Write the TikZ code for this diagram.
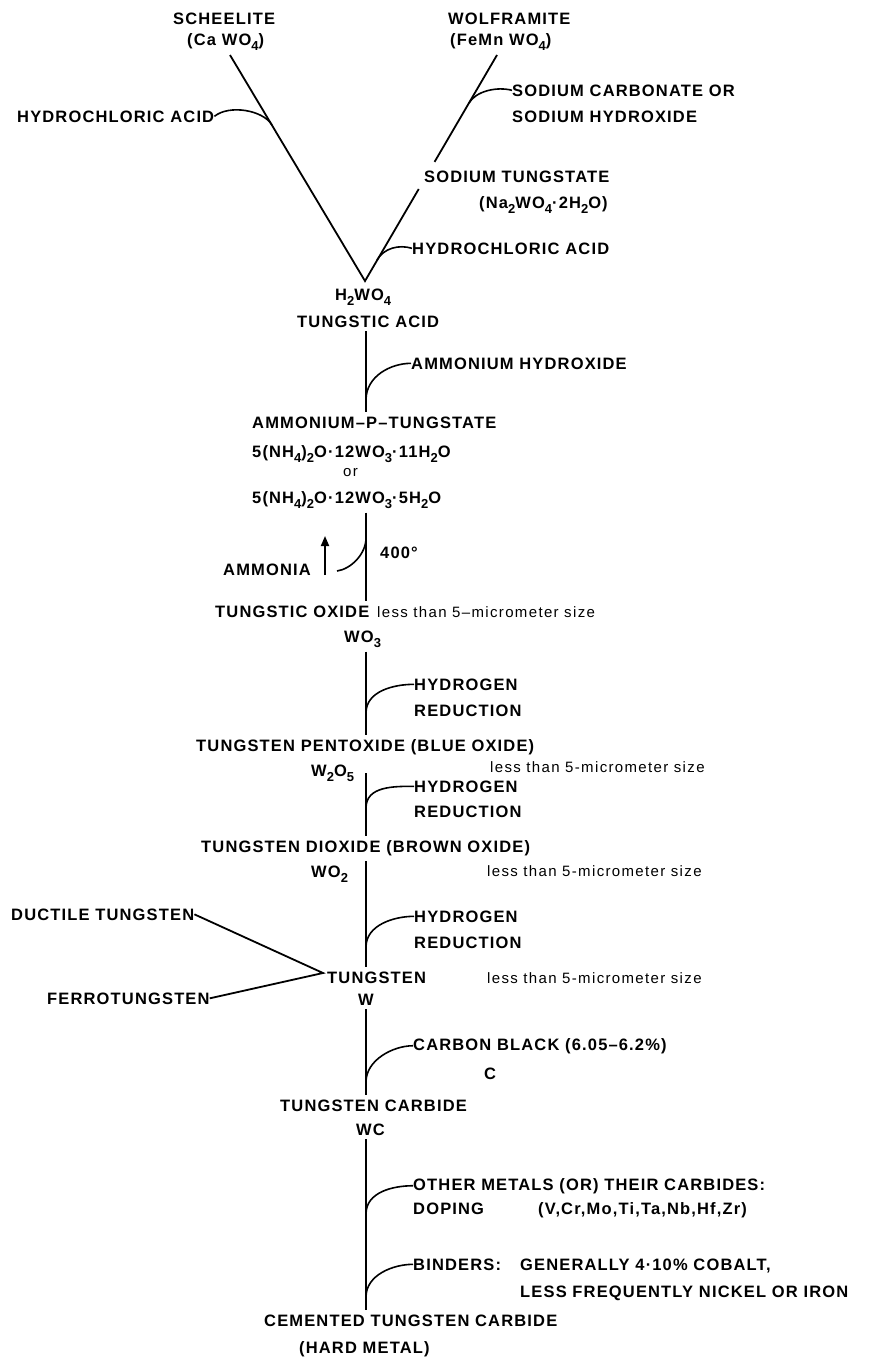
\documentclass[tikz,border=0pt]{standalone}
\usepackage{fontspec}
\usetikzlibrary{arrows.meta,calc}
\newfontfamily\capsfont{Liberation Sans}[LetterSpace=7]
\newfontfamily\smlfont{Liberation Sans}[LetterSpace=9]
\newcommand\sbs[1]{\raisebox{-0.6ex}{\fontsize{13}{13}\selectfont #1}}
\begin{document}
\begin{tikzpicture}[x=1pt,y=-1pt,
  lbl/.style={inner xsep=0pt,inner ysep=4pt,anchor=base west,font=\capsfont\bfseries\fontsize{16.5}{19}\selectfont},
  sml/.style={inner xsep=0pt,inner ysep=4pt,anchor=base west,font=\smlfont\fontsize{15}{17}\selectfont},
  ln/.style={line width=1.8pt},
  hk/.style={line width=1.6pt},
]
\useasboundingbox (0,0) rectangle (873,1360);
% labels
\node[lbl] (sch) at (173,24) {SCHEELITE};
\node[lbl] (cawo) at (187,45) {(Ca WO\sbs{4})};
\node[lbl] (wolf) at (448,24) {WOLFRAMITE};
\node[lbl] (femn) at (450,45) {(FeMn WO\sbs{4})};
\node[lbl] (hcla) at (17,122) {HYDROCHLORIC ACID};
\node[lbl] (soc) at (512,96) {SODIUM CARBONATE OR};
\node[lbl] (soh) at (512,122) {SODIUM HYDROXIDE};
\node[lbl] (sodt) at (424,182) {SODIUM TUNGSTATE};
\node[lbl] (na) at (479,208) {(Na\sbs{2}WO\sbs{4}·2H\sbs{2}O)};
\node[lbl] (hclb) at (412,254) {HYDROCHLORIC ACID};
\node[lbl] (hwo) at (335,300) {H\sbs{2}WO\sbs{4}};
\node[lbl] (tacid) at (297,327) {TUNGSTIC ACID};
\node[lbl] (amh) at (411,369) {AMMONIUM HYDROXIDE};
\node[lbl] (apt) at (252,428) {AMMONIUM–P–TUNGSTATE};
\node[lbl] (fa) at (252,457) {5(NH\sbs{4})\sbs{2}O·12WO\sbs{3}·11H\sbs{2}O};
\node[sml] (or) at (343,476) {or};
\node[lbl] (fb) at (252,503) {5(NH\sbs{4})\sbs{2}O·12WO\sbs{3}·5H\sbs{2}O};
\node[lbl] (amm) at (223,575) {AMMONIA};
\node[lbl] (deg) at (380,558) {400°};
\node[lbl] (tox) at (215,617) {TUNGSTIC OXIDE};
\node[sml] (lta) at (377,617) {less than 5–micrometer size};
\node[lbl] (wo3) at (344,642) {WO\sbs{3}};
\node[lbl] (hya) at (414,690) {HYDROGEN};
\node[lbl] (rea) at (414,716) {REDUCTION};
\node[lbl] (pent) at (196,751) {TUNGSTEN PENTOXIDE (BLUE OXIDE)};
\node[sml] (ltb) at (490,772) {less than 5-micrometer size};
\node[lbl] (wfo) at (311,776) {W\sbs{2}O\sbs{5}};
\node[lbl] (hyb) at (414,792) {HYDROGEN};
\node[lbl] (reb) at (414,817) {REDUCTION};
\node[lbl] (diox) at (201,852) {TUNGSTEN DIOXIDE (BROWN OXIDE)};
\node[lbl] (wo2) at (311,877) {WO\sbs{2}};
\node[sml] (ltc) at (487,876) {less than 5-micrometer size};
\node[lbl] (hyc) at (414,922) {HYDROGEN};
\node[lbl] (rec) at (414,948) {REDUCTION};
\node[lbl] (duct) at (11,920) {DUCTILE TUNGSTEN};
\node[lbl] (ferro) at (47,1004) {FERROTUNGSTEN};
\node[lbl] (tung) at (327,983) {TUNGSTEN};
\node[sml] (ltd) at (487,983) {less than 5-micrometer size};
\node[lbl] (w) at (358,1005) {W};
\node[lbl] (carb) at (413,1050) {CARBON BLACK (6.05–6.2\%)};
\node[lbl] (c) at (484,1079) {C};
\node[lbl] (tcarb) at (280,1111) {TUNGSTEN CARBIDE};
\node[lbl] (wc) at (356,1135) {WC};
\node[lbl] (oth) at (413,1190) {OTHER METALS (OR) THEIR CARBIDES:};
\node[lbl] (dop) at (413,1214) {DOPING};
\node[lbl] (vcr) at (538,1214) {(V,Cr,Mo,Ti,Ta,Nb,Hf,Zr)};
\node[lbl] (bind) at (413,1270) {BINDERS:};
\node[lbl] (gen) at (520,1270) {GENERALLY 4·10\% COBALT,};
\node[lbl] (less) at (520,1297) {LESS FREQUENTLY NICKEL OR IRON};
\node[lbl] (cem) at (264,1326) {CEMENTED TUNGSTEN CARBIDE};
\node[lbl] (hard) at (299,1353) {(HARD METAL)};
% coordinates
\coordinate (X) at (366,0);
\coordinate (V) at (365,281);
\coordinate (LT) at (230,55);
\coordinate (RT) at (497,55);
\coordinate (r1) at ($(RT)!0.473!(V)$);
\coordinate (r2) at ($(RT)!0.593!(V)$);
\coordinate (jA) at (272,125);
\coordinate (jB) at (469,103);
\coordinate (jC) at (377,260);
\coordinate (jD) at (366,400);
\coordinate (hE) at (337,571);
\coordinate (jE) at (366,538);
\coordinate (arB) at (325,575);
\coordinate (arT) at (325,536);
\coordinate (jF) at (366,713);
\coordinate (jG) at (366,808);
\coordinate (jH) at (366,947);
\coordinate (jI) at (366,1082);
\coordinate (jJ) at (366,1214);
\coordinate (jK) at (366,1297);
\coordinate (vtx) at (323,973);
% V
\draw[ln] (LT) -- (V) -- (r2);
\draw[ln] (RT) -- (r1);
\draw[hk] (hcla.east) .. controls +(15,-12) and +(-9,-15) .. (jA);
\draw[hk] (soc.west) .. controls +(-15,-4) and +(7,-12) .. (jB);
\draw[hk] (hclb.west) .. controls +(-13,-4) and +(7,-12) .. (jC);
% main stem
\draw[ln] (tacid.south -| X) -- (apt.north -| X);
\draw[hk] (amh.west) .. controls +(-20,0) and +(0,-24) .. (jD);
\draw[ln] (fb.south -| X) -- (tox.north -| X);
\draw[hk] (hE) .. controls +(14,-2) and +(0,16) .. (jE);
\draw[ln,-{Triangle[width=8pt,length=10pt]}] (arB) -- (arT);
\draw[ln] (wo3.south -| X) -- (pent.north -| X);
\draw[hk] (hya.west) .. controls +(-20,0) and +(0,-22) .. (jF);
\draw[ln] ($(wfo.north -| X)+(0,13)$) -- (diox.north -| X);
\draw[hk] (hyb.west) .. controls +(-20,0) and +(0,-22) .. (jG);
\draw[ln] (wo2.north -| X) -- (tung.north -| X);
\draw[hk] (hyc.west) .. controls +(-20,0) and +(0,-22) .. (jH);
\draw[ln] (duct.east) -- (vtx) -- (ferro.east);
\draw[ln] (w.south -| X) -- (tcarb.north -| X);
\draw[hk] (carb.west) .. controls +(-20,0) and +(0,-22) .. (jI);
\draw[ln] (wc.south -| X) -- (cem.north -| X);
\draw[hk] (oth.west) .. controls +(-20,0) and +(0,-22) .. (jJ);
\draw[hk] (bind.west) .. controls +(-20,0) and +(0,-22) .. (jK);
\end{tikzpicture}
\end{document}
